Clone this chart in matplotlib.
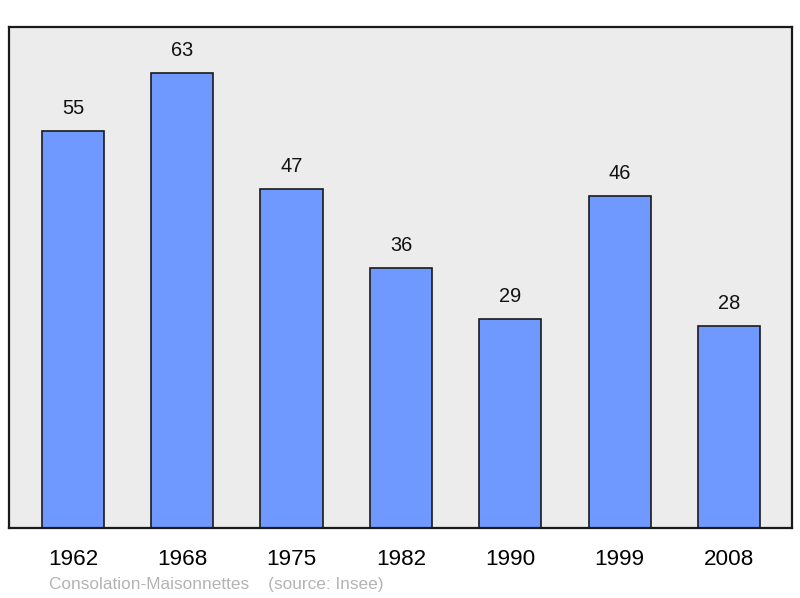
import matplotlib.pyplot as plt

plt.rcParams['font.family'] = ['Liberation Sans', 'DejaVu Sans']

# Données
years = ['1962', '1968', '1975', '1982', '1990', '1999', '2008']
population = [55, 63, 47, 36, 29, 46, 28]

fig = plt.figure(figsize=(8, 5.98), dpi=100)
ax = fig.add_axes([9 / 800, 70 / 598, 783 / 800, 501 / 598])
ax.set_facecolor('#ececec')

pos = range(len(years))
ax.bar(pos, population, width=0.57, color='#7099ff', edgecolor='#1a1a1a', linewidth=1.2)

# Étiquettes des valeurs
for x, v in zip(pos, population):
    ax.annotate(str(v), (x, v), xytext=(0, 16), textcoords='offset points',
                ha='center', va='center', fontsize=14.4, color='#111111')

ax.set_xlim(-0.585, 6.576)
ax.set_ylim(0, 69.4)
ax.set_yticks([])
ax.set_xticks(list(pos))
ax.set_xticklabels(years, fontsize=16.2)
ax.tick_params(axis='x', length=0, pad=14.8)
for s in ax.spines.values():
    s.set_linewidth(1.6)
    s.set_color('#1a1a1a')

fig.text(49 / 800, 1 - 584.5 / 598, 'Consolation-Maisonnettes    (source: Insee)',
         fontsize=12.4, color='#b4b4b4', va='center', ha='left')

fig.savefig('out.png', dpi=100)
